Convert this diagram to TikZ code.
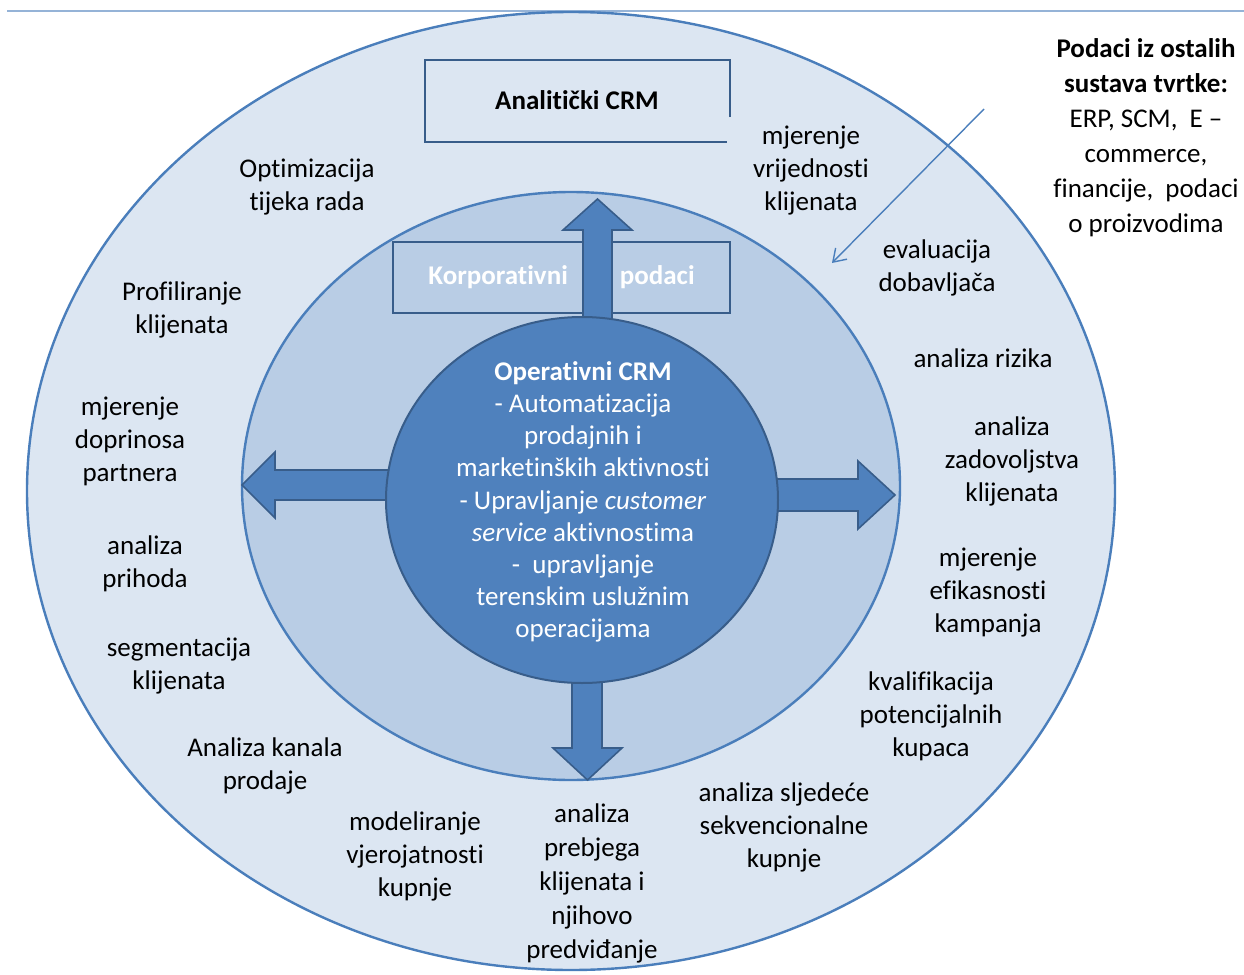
\documentclass[tikz,border=0pt]{standalone}
\usepackage{fontspec}
\setmainfont{Carlito}[Ligatures={TeX,NoCommon}]
\usepackage{tikz}
\usetikzlibrary{shapes.geometric, arrows.meta}
\definecolor{ringlight}{HTML}{DCE6F2}
\definecolor{ringmid}{HTML}{B9CDE5}
\definecolor{coreblue}{HTML}{4F81BD}
\definecolor{edgeblue}{HTML}{4A7EBB}
\definecolor{darkedge}{HTML}{385D8A}
\definecolor{rulecol}{HTML}{95B3D7}

\begin{document}
\begin{tikzpicture}
    [
        x=0.5pt, y=-0.5pt,
        ring/.style={ellipse, draw=edgeblue, line width=1.2pt, inner sep=0pt},
        task/.style={align=center, inner sep=0pt,
                     font=\fontsize{13.5}{16.5}\selectfont},
        coretext/.style={align=center, inner sep=0pt, text=white,
                         font=\fontsize{13.5}{16.1}\selectfont},
        databox/.style={rectangle, draw=darkedge, fill=ringmid, line width=1pt,
                        inner sep=0pt, text=white,
                        font=\bfseries\fontsize{13.5}{16.5}\selectfont},
        blockarrow/.style={fill=coreblue, draw=darkedge, line width=0.8pt},
        framebox/.style={draw=darkedge, line width=1pt},
        headrule/.style={draw=rulecol, line width=1pt},
        infoarrow/.style={draw=edgeblue, line width=0.7pt,
                          -{Straight Barb[length=6pt, width=8pt]}}
    ]
    \useasboundingbox (0,0) rectangle (1244,975);
    \draw[headrule] (7,11) -- (1244,11);
    \node (outer) [ring, fill=ringlight, minimum width=544pt, minimum height=479pt] at (571,491) {};
    \node (middle) [ring, fill=ringmid, minimum width=329pt, minimum height=294pt] at (571,486) {};
    \node (corpdata) [databox, minimum width=168.5pt, minimum height=35.5pt] at (561.5,277.5)
        {Korporativni\hspace{26pt}podaci};
    \draw[blockarrow] (583,330) -- (583,230) -- (563,230) -- (597.5,199) -- (632,230)
        -- (612,230) -- (612,330) -- cycle;
    \draw[blockarrow] (572,670) -- (572,748) -- (553,748) -- (587.5,780) -- (622,748)
        -- (602,748) -- (602,670) -- cycle;
    \draw[blockarrow] (400,470) -- (275,470) -- (275,452) -- (242,485) -- (275,518)
        -- (275,500) -- (400,500) -- cycle;
    \draw[blockarrow] (765,479) -- (858,479) -- (858,461) -- (895,495) -- (858,529)
        -- (858,511) -- (765,511) -- cycle;
    \node (core) [ellipse, draw=darkedge, fill=coreblue, line width=1pt, inner sep=0pt,
                  minimum width=196pt, minimum height=183pt] at (582,500) {};
    \node (opcrm) [coretext] at (583,502)
        {\textbf{Operativni CRM}\\- Automatizacija\\prodajnih i\\marketinških aktivnosti\\
         - Upravljanje \textit{customer}\\\textit{service} aktivnostima\\-~~upravljanje\\
         terenskim uslužnim\\operacijama};
    \draw[framebox] (730,117) -- (730,60) -- (425,60) -- (425,142) -- (727,142);
    \node (analit) [font=\bfseries\fontsize{13.5}{16.5}\selectfont] at (577,100) {Analitički CRM};
    \node (optim) [task] at (307,187) {Optimizacija\\tijeka rada};
    \node (profil) [task] at (182,310) {Profiliranje\\klijenata};
    \node (doprin) [task] at (130,441) {mjerenje\\doprinosa\\partnera};
    \node (prihod) [task] at (145,564) {analiza\\prihoda};
    \node (segment) [task] at (179,666) {segmentacija\\klijenata};
    \node (kanal) [task] at (265,766) {Analiza kanala\\prodaje};
    \node (vjerojat) [task] at (415,856) {modeliranje\\vjerojatnosti\\kupnje};
    \node (prebjeg) [task, font=\fontsize{13.5}{17}\selectfont] at (592,883)
        {analiza\\prebjega\\klijenata i\\njihovo\\predviđanje};
    \node (sekvenc) [task] at (784,827) {analiza sljedeće\\sekvencionalne\\kupnje};
    \node (kvalif) [task] at (931,716) {kvalifikacija\\potencijalnih\\kupaca};
    \node (kampanja) [task] at (988,593) {mjerenje\\efikasnosti\\kampanja};
    \node (zadovolj) [task] at (1012,461) {analiza\\zadovoljstva\\klijenata};
    \node (rizik) [task] at (983,358) {analiza rizika};
    \node (dobav) [task] at (937,268) {evaluacija\\dobavljača};
    \node (vrijed) [task] at (811,171) {mjerenje\\vrijednosti\\klijenata};
    \node (ostali) [task, font=\fontsize{13.5}{17.5}\selectfont] at (1146,138)
        {\textbf{Podaci iz ostalih}\\\textbf{sustava tvrtke:}\\ERP, SCM,~~E –\\commerce,\\
         financije,~~podaci\\o proizvodima};
    \coordinate (infostart) at (984,109);
    \coordinate (infoend) at (832,263);
    \draw[infoarrow] (infostart) -- (infoend);
\end{tikzpicture}
\end{document}
